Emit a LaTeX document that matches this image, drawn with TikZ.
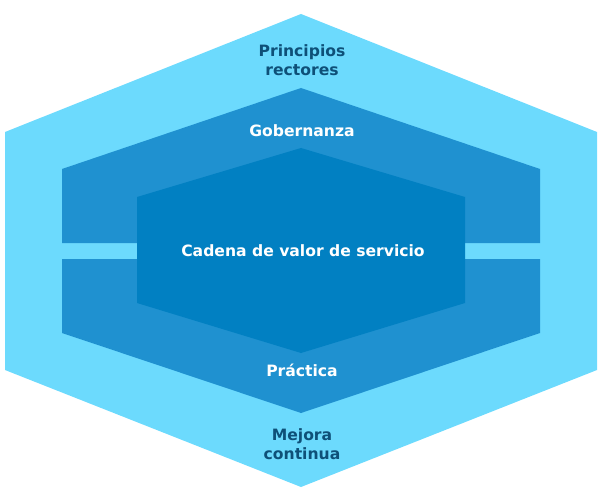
\documentclass[tikz,border=0pt]{standalone}
\usepackage{fontspec}
\setmainfont{DejaVu Sans}
\definecolor{outerblue}{RGB}{108,218,253}
\definecolor{midblue}{RGB}{31,145,208}
\definecolor{innerblue}{RGB}{1,128,194}
\definecolor{darktext}{RGB}{14,80,120}
\begin{document}
\begin{tikzpicture}[x=1pt,y=-1pt,
  lbl/.style={font=\bfseries\fontsize{15.6}{18.5}\selectfont, align=center, inner sep=0pt},
  lbldark/.style={lbl, text=darktext},
  lbllight/.style={lbl, text=white}]
\useasboundingbox (0,0) rectangle (600,500);
% outer hexagon
\fill[outerblue] (301,14) -- (597,132) -- (597,370) -- (301,487) -- (5,370) -- (5,132) -- cycle;
% middle upper half
\fill[midblue] (301,88) -- (540,169) -- (540,243) -- (62,243) -- (62,169) -- cycle;
% middle lower half
\fill[midblue] (62,259) -- (540,259) -- (540,333) -- (301,413) -- (62,333) -- cycle;
% inner hexagon
\fill[innerblue] (301,148) -- (465,197) -- (465,303) -- (301,353) -- (137,303) -- (137,197) -- cycle;
% labels
\node[lbldark] (principios) at (302,60) {Principios\\rectores};
\node[lbllight] (gobernanza) at (302,131) {Gobernanza};
\node[lbllight] (cadena) at (303,251) {Cadena de valor de servicio};
\node[lbllight] (practica) at (302,370) {Práctica};
\node[lbldark] (mejora) at (302,444) {Mejora\\continua};
\end{tikzpicture}
\end{document}
